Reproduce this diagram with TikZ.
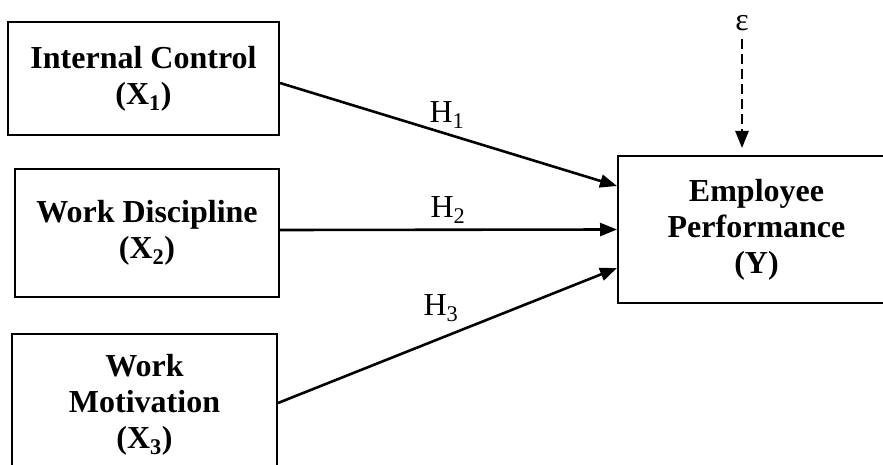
\documentclass[tikz,border=0pt]{standalone}
\usepackage{fontspec}
\setmainfont{Liberation Serif}
\usetikzlibrary{arrows.meta}

\begin{document}
\begin{tikzpicture}[x=1pt,y=-1pt,
  var/.style = {draw, line width=2pt, align=center, inner sep=0pt, font=\fontsize{32}{36}\selectfont\bfseries},
  path/.style = {line width=2.6pt, -{Triangle[length=17pt,width=13pt]}},
  err/.style = {line width=2.6pt, dash pattern=on 10pt off 5pt, -{Triangle[length=17pt,width=13pt]}},
  hyp/.style = {font=\fontsize{32}{36}\selectfont, inner sep=0pt}]
\clip (0,0) rectangle (883,465);
\node[var, minimum width=271pt, minimum height=113pt] (x1) at (143.5,78.5) {Internal Control\\(X\textsubscript{1})};
\node[var, minimum width=264pt, minimum height=128pt] (x2) at (147,233) {Work Discipline\\(X\textsubscript{2})};
\node[var, minimum width=265pt, minimum height=142pt] (x3) at (144.5,405) {Work\\Motivation\\(X\textsubscript{3})};
\node[var, minimum width=277pt, minimum height=147pt] (y) at (756.5,229.5) {Employee\\Performance\\(Y)};
\node[hyp] (eps) at (742,23) {ε};
\node[hyp] (h1) at (447,115) {H\textsubscript{1}};
\node[hyp] (h2) at (448,210) {H\textsubscript{2}};
\node[hyp] (h3) at (441,308) {H\textsubscript{3}};
\draw[path] ([yshift=-4.5pt]x1.east) -- ([yshift=43.5pt]y.west);
\draw[path] ([yshift=3pt]x2.east) -- (y.west);
\draw[path] ([yshift=2pt]x3.east) -- ([yshift=-38.5pt]y.west);
\draw[err, shorten <=8pt, shorten >=7pt] (eps.south) -- (eps.south |- y.north);
\end{tikzpicture}
\end{document}
